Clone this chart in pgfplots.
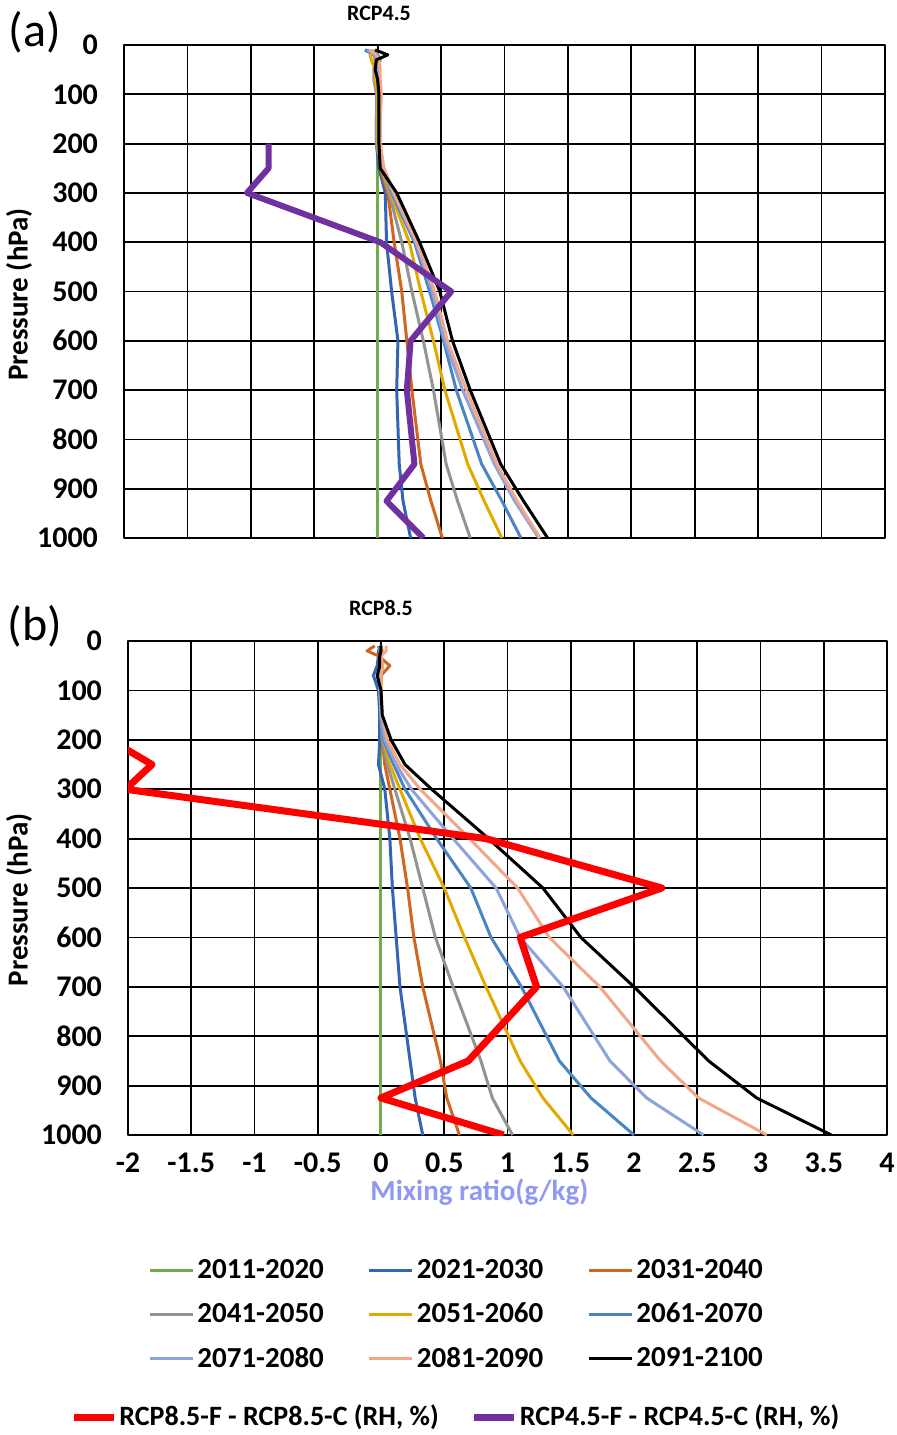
\documentclass[border=0pt]{standalone}
\usepackage{fontspec}
\setmainfont{Carlito}
\usepackage{pgfplots}
\usepackage{pgfplotstable}
\pgfplotsset{compat=1.18}

\definecolor{c2011}{HTML}{70AD47}
\definecolor{c2021}{HTML}{3563B5}
\definecolor{c2031}{HTML}{D0661F}
\definecolor{c2041}{HTML}{939393}
\definecolor{c2051}{HTML}{E2AA00}
\definecolor{c2061}{HTML}{4A86C4}
\definecolor{c2071}{HTML}{8EA2DB}
\definecolor{c2081}{HTML}{F2A78A}
\definecolor{c2091}{HTML}{000000}
\definecolor{rhred}{HTML}{FF0000}
\definecolor{rhpurple}{HTML}{7030A0}
\definecolor{mixcol}{HTML}{8F98F2}

\pgfplotstableread{
p c2011 c2021 c2031 c2041 c2051 c2061 c2071 c2081 c2091
10 0 -0.10 -0.03 -0.05 -0.03 -0.10 -0.08 -0.06 -0.02
20 0 -0.03 -0.02 -0.03 -0.06 0.00 -0.02 -0.01 0.08
30 0 0.00 0.00 -0.02 -0.05 0.02 0.00 0.01 -0.01
50 0 0.01 0.00 -0.03 -0.02 0.00 0.00 0.02 -0.02
70 0 -0.01 0.00 -0.03 -0.02 0.00 0.01 0.02 0.00
100 0 0.00 0.01 -0.01 0.00 0.01 0.02 0.03 0.01
150 0 -0.01 0.00 -0.01 0.00 0.01 0.02 0.02 0.01
200 0 -0.01 0.00 -0.01 0.00 0.01 0.02 0.02 0.01
250 0 0.01 0.02 0.03 0.03 0.04 0.04 0.05 0.02
300 0 0.06 0.08 0.09 0.10 0.11 0.12 0.13 0.15
400 0 0.07 0.13 0.19 0.25 0.29 0.30 0.31 0.33
500 0 0.11 0.19 0.27 0.34 0.41 0.43 0.45 0.49
600 0 0.16 0.23 0.36 0.44 0.52 0.53 0.55 0.59
700 0 0.15 0.27 0.44 0.53 0.62 0.67 0.70 0.73
850 0 0.17 0.34 0.54 0.71 0.82 0.92 0.94 0.97
925 0 0.20 0.42 0.63 0.84 0.98 1.08 1.10 1.15
1000 0 0.26 0.51 0.73 0.98 1.13 1.27 1.28 1.34
}\tabA

\pgfplotstableread{
p c2011 c2021 c2031 c2041 c2051 c2061 c2071 c2081 c2091
10 0 0.00 -0.05 -0.02 0.00 -0.02 -0.01 0.04 0.00
20 0 -0.02 -0.11 -0.01 0.01 0.00 0.00 0.04 0.00
30 0 -0.02 -0.02 0.00 0.00 0.00 0.00 0.00 -0.01
50 0 -0.03 0.07 0.01 0.01 -0.01 -0.01 0.01 -0.01
70 0 -0.06 0.00 0.00 0.00 -0.02 -0.02 0.00 -0.03
100 0 -0.02 0.00 0.00 0.00 -0.01 -0.01 0.00 0.00
150 0 -0.01 0.00 0.00 0.00 0.00 0.00 0.01 0.01
200 0 -0.01 0.01 0.01 0.02 0.02 0.03 0.05 0.08
250 0 -0.02 0.03 0.05 0.07 0.10 0.12 0.15 0.19
300 0 0.03 0.07 0.11 0.15 0.19 0.24 0.31 0.40
400 0 0.07 0.15 0.23 0.31 0.44 0.57 0.70 0.85
500 0 0.09 0.21 0.33 0.50 0.71 0.91 1.08 1.28
600 0 0.12 0.26 0.43 0.66 0.87 1.10 1.33 1.58
700 0 0.15 0.33 0.57 0.83 1.11 1.44 1.73 2.00
850 0 0.23 0.47 0.79 1.10 1.41 1.81 2.21 2.59
925 0 0.27 0.52 0.88 1.28 1.66 2.10 2.51 2.97
1000 0 0.33 0.62 1.04 1.52 2.00 2.55 3.05 3.56
}\tabB

\pgfplotstableread{
p rh
200 -0.86
250 -0.86
300 -1.03
400 0.02
500 0.58
600 0.26
700 0.23
850 0.29
925 0.07
1000 0.36
}\rhA

\pgfplotstableread{
p rh
200 -2.14
250 -1.81
300 -2.02
400 0.83
500 2.22
600 1.10
700 1.23
850 0.69
925 0.00
1000 0.97
}\rhB

\pgfplotsset{
  myax/.style={
    scale only axis,
    xmin=-2, xmax=4, ymin=0, ymax=1000, y dir=reverse,
    xtick={-2,-1.5,-1,-0.5,0,0.5,1,1.5,2,2.5,3,3.5,4},
    ytick={0,100,200,300,400,500,600,700,800,900,1000},
    yticklabels={0,100,200,300,400,500,600,700,800,900,1000},
    grid=major,
    major grid style={black, line width=0.9pt},
    axis line style={black, line width=0.9pt},
    major tick length=0pt,
    tick label style={font=\fontsize{15}{18}\selectfont\bfseries},
    yticklabel style={xshift=-9.5pt},
    ylabel={Pressure (hPa)},
    ylabel style={font=\fontsize{14.5}{17}\selectfont\bfseries, anchor=center},
    line join=round,
    every axis plot/.append style={line width=1.5pt},
  },
}

\begin{document}
\begin{tikzpicture}[x=1pt,y=1pt]
\useasboundingbox (0,0) rectangle (448,-717.5);

\node[font=\fontsize{24}{28}\selectfont, anchor=center] at (17.5,-16) {(a)};
\node[font=\fontsize{24}{28}\selectfont, anchor=center] at (17.5,-313) {(b)};
\node[font=\fontsize{11}{13}\selectfont\bfseries, anchor=center] at (189.5,-6.5) {RCP4.5};
\node[font=\fontsize{11}{13}\selectfont\bfseries, anchor=center] at (190.5,-304) {RCP8.5};

% Panel (a)
\begin{axis}[myax,
  at={(62pt,-22.5pt)}, anchor=north west,
  width=380.5pt, height=246.5pt,
  xticklabels={},
  ylabel style={at={(axis description cs:-0.138,0.494)}},
]
\addplot[c2011, no markers] table[x=c2011, y=p] {\tabA};
\addplot[c2021, no markers] table[x=c2021, y=p] {\tabA};
\addplot[c2031, no markers] table[x=c2031, y=p] {\tabA};
\addplot[c2041, no markers] table[x=c2041, y=p] {\tabA};
\addplot[c2051, no markers] table[x=c2051, y=p] {\tabA};
\addplot[c2061, no markers] table[x=c2061, y=p] {\tabA};
\addplot[c2071, no markers] table[x=c2071, y=p] {\tabA};
\addplot[c2081, no markers] table[x=c2081, y=p] {\tabA};
\addplot[c2091, no markers] table[x=c2091, y=p] {\tabA};
\addplot[rhpurple, no markers, line width=3pt] table[x=rh, y=p] {\rhA};
\end{axis}

% Panel (b)
\begin{axis}[myax,
  at={(64pt,-320.5pt)}, anchor=north west,
  width=379.5pt, height=247pt,
  xticklabels={-2,-1.5,-1,-0.5,0,0.5,1,1.5,2,2.5,3,3.5,4},
  xticklabel style={yshift=-5.5pt},
  ylabel style={at={(axis description cs:-0.1436,0.476)}},
  xlabel={Mixing ratio(g/kg)},
  xlabel style={font=\fontsize{14.5}{17}\selectfont\bfseries, text=mixcol, at={(axis description cs:0.463,-0.115)}, anchor=center},
  legend columns=3,
  legend cell align=left,
  legend image code/.code={\draw[#1] (0pt,0pt) -- (21.5pt,0pt);},
  legend style={at={(axis description cs:0.0264,-0.247)}, anchor=north west,
    draw=none, fill=none, inner sep=0pt,
    font=\fontsize{14.5}{17}\selectfont\bfseries,
    column sep=0.5pt, row sep=8.75pt,
    /tikz/every even column/.append style={column sep=21pt},
    nodes={inner sep=1pt}},
]
\addplot[c2011, no markers] table[x=c2011, y=p] {\tabB};
\addlegendentry{2011-2020}
\addplot[c2021, no markers] table[x=c2021, y=p] {\tabB};
\addlegendentry{2021-2030}
\addplot[c2031, no markers] table[x=c2031, y=p] {\tabB};
\addlegendentry{2031-2040}
\addplot[c2041, no markers] table[x=c2041, y=p] {\tabB};
\addlegendentry{2041-2050}
\addplot[c2051, no markers] table[x=c2051, y=p] {\tabB};
\addlegendentry{2051-2060}
\addplot[c2061, no markers] table[x=c2061, y=p] {\tabB};
\addlegendentry{2061-2070}
\addplot[c2071, no markers] table[x=c2071, y=p] {\tabB};
\addlegendentry{2071-2080}
\addplot[c2081, no markers] table[x=c2081, y=p] {\tabB};
\addlegendentry{2081-2090}
\addplot[c2091, no markers] table[x=c2091, y=p] {\tabB};
\addlegendentry{2091-2100}
\addplot[rhred, no markers, line width=3.5pt, forget plot] table[x=rh, y=p] {\rhB};
\end{axis}

% Bottom legend (RH series)
\begin{axis}[hide axis, scale only axis,
  at={(0pt,-708.5pt)}, anchor=west,
  width=448pt, height=2pt,
  xmin=0, xmax=1, ymin=0, ymax=1,
  legend columns=2,
  legend cell align=left,
  legend image code/.code={\draw[#1] (0pt,0pt) -- (20pt,0pt);},
  legend style={at={(axis description cs:0.078,0.5)}, anchor=west,
    draw=none, fill=none, inner sep=0pt,
    font=\fontsize{14}{17}\selectfont\bfseries,
    column sep=0pt,
    /tikz/every even column/.append style={column sep=15pt},
    nodes={inner sep=1pt}},
]
\addlegendimage{rhred, line width=3.5pt}
\addlegendentry{RCP8.5-F - RCP8.5-C (RH, \%)}
\addlegendimage{rhpurple, line width=3.5pt}
\addlegendentry{RCP4.5-F - RCP4.5-C (RH, \%)}
\end{axis}
\end{tikzpicture}
\end{document}
